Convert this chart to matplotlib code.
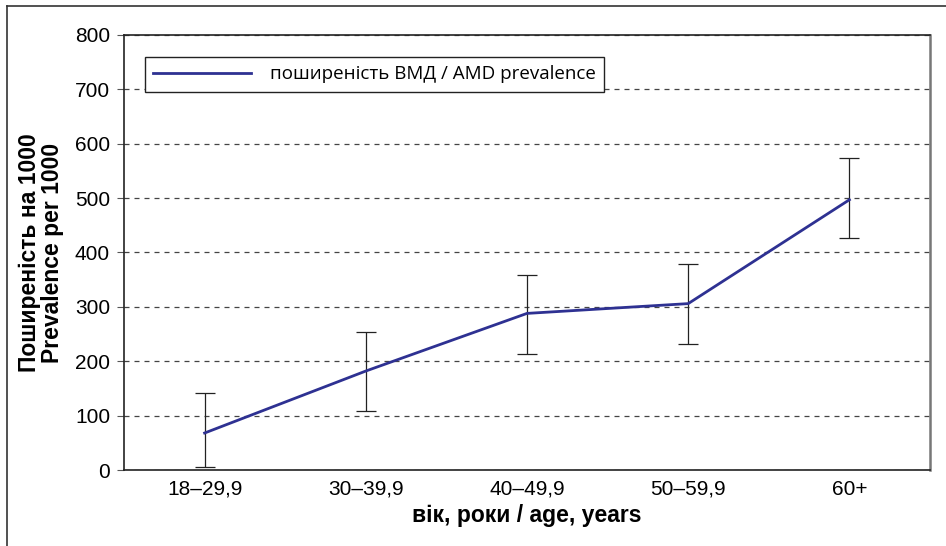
import numpy as np
import matplotlib.pyplot as plt
from matplotlib.lines import Line2D

groups = ['18–29,9', '30–39,9', '40–49,9', '50–59,9', '60+']
prevalence = [68, 182, 288, 306, 497]
ci_low = [6, 109, 214, 232, 427]
ci_high = [142, 254, 359, 379, 573]

line_color = '#2E3192'
tick_font = ['Liberation Sans', 'DejaVu Sans']

x = np.arange(len(groups))
prev = np.array(prevalence)
yerr = [prev - np.array(ci_low), np.array(ci_high) - prev]

fig = plt.figure(figsize=(9.46, 5.46), dpi=100)
ax = fig.add_axes([124 / 946, 1 - 470 / 546, (930 - 124) / 946, (470 - 35) / 546])

ax.errorbar(x, prev, yerr=yerr, fmt='none', ecolor='#222222', elinewidth=0.9,
            capsize=7, capthick=0.9, zorder=3)
ax.plot(x, prev, color=line_color, linewidth=2, zorder=4)

ax.set_xlim(-0.5, len(groups) - 0.5)
ax.set_ylim(0, 800)
ax.set_yticks(range(0, 801, 100))
ax.set_xticks(x)
ax.set_xticklabels(groups, family=tick_font, fontsize=15)
for lab in ax.get_yticklabels():
    lab.set_family(tick_font)
    lab.set_fontsize(15)
ax.tick_params(axis='x', length=0, pad=7)
ax.tick_params(axis='y', length=5, width=0.8, color='#555555', pad=5)

ax.grid(axis='y', linestyle=(0, (4, 4)), color='#444444', linewidth=0.9)
ax.set_axisbelow(True)

for s in ['left', 'bottom', 'top']:
    ax.spines[s].set_color('#222222')
    ax.spines[s].set_linewidth(1.2)
ax.spines['right'].set_color('#777777')
ax.spines['right'].set_linewidth(1.8)

ax.set_ylabel('Поширеність на 1000\nPrevalence per 1000', fontsize=16.5,
              fontweight='bold', family=['Liberation Sans', 'DejaVu Sans'],
              linespacing=1.0, labelpad=8)
ax.set_xlabel('вік, роки / age, years', fontsize=16.5, fontweight='bold',
              family=['Liberation Sans', 'DejaVu Sans'], labelpad=4)

handle = Line2D([0], [0], color=line_color, linewidth=2)
leg = ax.legend([handle], ['поширеність ВМД / AMD prevalence'], loc='upper left',
                bbox_to_anchor=(21 / 806, 1 - 22 / 435), fancybox=False,
                framealpha=1, edgecolor='#222222', handlelength=5.2,
                borderaxespad=0, borderpad=0.45, handletextpad=1.0,
                prop={'family': ['Open Sans', 'DejaVu Sans'], 'size': 13.5})
leg.get_frame().set_linewidth(1.0)

# outer frame around figure (left and top edges visible)
fig.add_artist(Line2D([7 / 946, 7 / 946], [0, 1 - 6 / 546], transform=fig.transFigure,
                      color='#333333', linewidth=1.2))
fig.add_artist(Line2D([7 / 946, 1], [1 - 6 / 546, 1 - 6 / 546], transform=fig.transFigure,
                      color='#333333', linewidth=1.2))

fig.savefig('out.png', dpi=100)
